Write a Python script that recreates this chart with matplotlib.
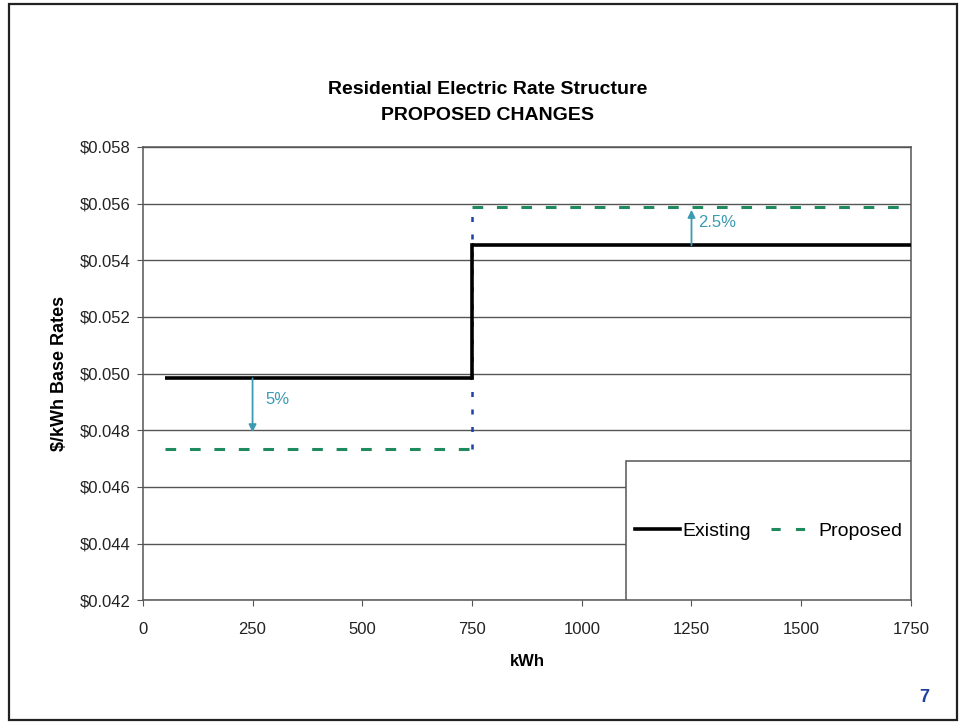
import matplotlib.pyplot as plt
from matplotlib.patches import Rectangle
from matplotlib.ticker import FuncFormatter

# Rate blocks (kWh boundaries) and base rates in $/kWh
block_edges = [50, 750, 1750]
existing_rates = [0.04983, 0.05453]
proposed_rates = [0.04733, 0.05588]
# Change annotations: (kWh position, label)
change_kwh = [250, 1250]
change_labels = ['5%', '2.5%']

y_ticks = [0.042, 0.044, 0.046, 0.048, 0.050, 0.052, 0.054, 0.056, 0.058]
x_ticks = [0, 250, 500, 750, 1000, 1250, 1500, 1750]

font = ['Liberation Sans', 'DejaVu Sans']
plt.rcParams['font.family'] = font

fig = plt.figure(figsize=(9.65, 7.24), dpi=100)
fig.patch.set_facecolor('white')
ax = fig.add_axes([0.148, 0.171, 0.796, 0.626])

grid_col = '#555555'
teal = '#3c9bb0'
green = '#1e8a5e'
blue = '#1f3fa8'

ax.set_xlim(0, 1750)
ax.set_ylim(0.042, 0.058)
ax.set_yticks(y_ticks)
ax.set_xticks(x_ticks)
ax.yaxis.set_major_formatter(FuncFormatter(lambda v, p: f'${v:.3f}'))
ax.tick_params(axis='both', labelsize=12, colors='#222222', length=4,
               color=grid_col, direction='out')
ax.tick_params(axis='x', pad=12)
ax.tick_params(axis='y', pad=5)
for s in ax.spines.values():
    s.set_color(grid_col)
    s.set_linewidth(1.1)
ax.grid(axis='y', color=grid_col, linewidth=1.0, zorder=1)

# Existing rate steps
for i in range(2):
    ax.plot(block_edges[i:i + 2], [existing_rates[i]] * 2, color='black',
            lw=2.6, zorder=4, solid_capstyle='butt')
ax.plot([block_edges[1]] * 2, existing_rates, color='black', lw=2.6, zorder=4)

# Proposed rate steps
for i in range(2):
    ax.plot(block_edges[i:i + 2], [proposed_rates[i]] * 2, color=green,
            lw=2.2, ls=(0, (3.5, 4.5)), zorder=4)
ax.plot([block_edges[1]] * 2, proposed_rates, color=blue, lw=1.8,
        ls=(0, (2, 5)), zorder=3)

# Percentage change arrows
for i in range(2):
    x = change_kwh[i]
    ax.annotate('', xy=(x, proposed_rates[i] + (0.0006 if i == 0 else -0.0001)),
                xytext=(x, existing_rates[i]),
                arrowprops=dict(arrowstyle='-|>', color=teal, lw=1.3,
                                mutation_scale=11, shrinkA=0, shrinkB=0),
                zorder=5)
ax.text(change_kwh[0] + 30, 0.0491, change_labels[0], color=teal,
        fontsize=12, ha='left', va='center')
ax.text(change_kwh[1] + 15, 0.05535, change_labels[1], color=teal,
        fontsize=12, ha='left', va='center')

# Legend panel in the lower right
box = Rectangle((0.629, 0.0), 0.371, 0.307, transform=ax.transAxes,
                facecolor='white', edgecolor=grid_col, lw=1.1, zorder=6)
ax.add_patch(box)
h1, = ax.plot([], [], color='black', lw=2.6)
h2, = ax.plot([], [], color=green, lw=2.2, ls=(0, (3, 5)))
leg = ax.legend([h1, h2], ['Existing', 'Proposed'], ncol=2, frameon=False,
                loc='center', bbox_to_anchor=(0.8145, 0.153),
                fontsize=14, handlelength=2.3, handletextpad=0.15,
                columnspacing=1.0)
leg.set_zorder(7)

ax.set_xlabel('kWh', fontsize=12, fontweight='bold', labelpad=12)
ax.set_ylabel('$/kWh Base Rates', fontsize=13, fontweight='bold', labelpad=8)

fig.text(0.505, 0.876, 'Residential Electric Rate Structure', ha='center',
         va='center', fontsize=14, fontweight='bold')
fig.text(0.505, 0.840, 'PROPOSED CHANGES', ha='center', va='center',
         fontsize=14, fontweight='bold')
fig.text(0.958, 0.037, '7', ha='center', va='center', fontsize=13,
         fontweight='bold', color='#2040a0')

# Page border
fig.add_artist(Rectangle((0.009, 0.006), 0.983, 0.989, transform=fig.transFigure,
                         fill=False, edgecolor='#222222', lw=1.6))

fig.savefig('out.png', dpi=100, facecolor='white')
